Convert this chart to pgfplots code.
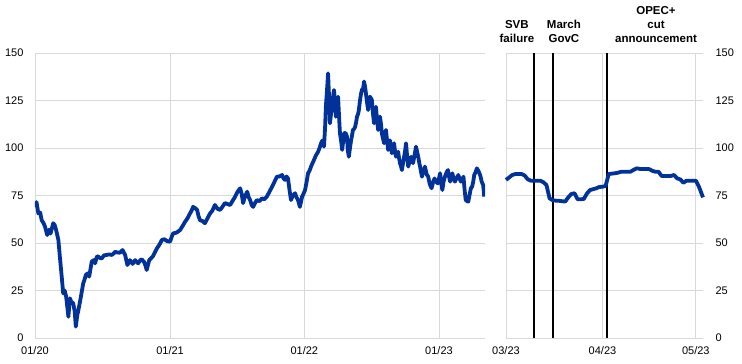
\documentclass[border=0pt]{standalone}
\usepackage{fontspec}
\setmainfont{Liberation Sans}
\usepackage{pgfplots}
\pgfplotsset{compat=1.18}
\definecolor{ecbblue}{RGB}{0,50,153}
\definecolor{gridgray}{RGB}{217,217,217}
\begin{document}
\begin{tikzpicture}
\useasboundingbox (-35pt,-26pt) rectangle (707pt,338pt);
\pgfplotsset{every axis/.append style={
  scale only axis, height=285pt, ymin=0, ymax=150, ytick={0,25,...,150},
  grid=major, major grid style={gridgray, line width=0.9pt},
  axis line style={draw=none}, major tick length=0pt,
  tick label style={font=\fontsize{11}{13}\selectfont},
  /pgf/number format/assume math mode=true,
  xticklabel style={yshift=-5pt},
}}
\begin{axis}[at={(0pt,0pt)}, width=450pt, xmin=0, xmax=1213,
  xtick={0,364,726,1089}, xticklabels={01/20,01/21,01/22,01/23},
  yticklabel style={xshift=-8pt}]
\addplot[ecbblue, line width=3.8pt, line join=round] table {
1 69
4 71.5
9 65.6
14 66
18 62
23 60.5
27 58.6
33 54.2
38 57
42 55
49 60.4
53 59.5
57 56.8
63 51.6
67 42.8
72 32.3
76 23.5
80 25
84 21.7
90 11.2
94 20.9
98 19
103 18.3
107 14
110 6
114 12
117 14.7
123 20.9
130 28.8
134 31
137 33.2
142 34
146 32.3
153 40.2
158 41
162 39.3
167 43
171 42.8
176 42
180 41.9
186 43.5
193 43.7
200 44
207 43.7
212 44.5
216 45.4
222 45
229 44.9
236 46.3
243 43.7
249 38.4
256 41
263 39
270 41
274 40
278 39.3
284 41
288 41.4
294 40
298 38
301 35.8
308 41
318 43
323 45
328 47
335 49
342 51.6
349 52
356 51
364 50.7
368 53
372 55
382 55.5
391 56.8
398 59
404 61
411 63
418 65.6
422 67
426 69
431 68.5
437 67.4
441 64
445 62
452 61.5
458 60.4
465 63
472 65.6
478 67
485 70
492 68
499 67.4
505 69
512 71
519 70.5
526 70
532 72
539 74.2
546 77
553 78.8
557 76
561 71
565 74
572 77
576 74
580 72.6
584 70
588 69
593 71
598 72.6
605 72
612 73.5
618 73
625 74.4
632 77
639 79.6
645 82
652 84.9
659 85
666 85.8
670 84
674 83.2
678 85
682 84
686 78
690 72.6
695 75
701 76.2
705 74
709 72.6
714 69
720 74.4
724 76
728 77.9
732 82
736 86.7
740 88
744 90.2
748 92
752 93.7
757 96
763 98
767 100
771 102.5
775 104
779 100.7
782 111
784 121.7
787 130
790 139.3
793 125
795 113
798 118
801 121.7
804 128
806 130.5
809 124
811 116.5
814 120
817 127
820 115
822 107.7
825 104
828 99
831 104
833 107.7
837 108
841 106
843 99
846 95.4
849 100
852 104
855 107
857 109.5
860 110
863 111.2
866 114
868 116.5
871 118
873 120
876 125
879 128.8
882 131
884 130.5
887 135
890 132
892 128.8
895 124
898 120
900 124
903 127
906 126
908 125.3
911 118
914 113
917 118
919 121.7
922 115
925 109.5
928 113
930 116.5
933 112
935 107.7
938 105
941 102.5
943 106
946 109.5
949 104
952 99
955 101
957 104
960 100
962 97.2
965 100
968 102.5
970 99
973 95.4
976 97
979 98
981 95
984 91.9
987 90
989 88.4
992 92
995 95.4
998 99
1000 102.5
1003 96
1006 90.2
1010 93
1014 95.4
1016 94
1019 92
1023 96
1027 100.7
1030 98
1033 95.4
1036 92
1038 90.2
1041 87
1043 84.9
1046 87
1049 89
1051 90.2
1056 86
1060 84.9
1064 81
1069 78.8
1073 82
1077 84
1082 82
1086 81.4
1089 84
1092 86.7
1095 82
1098 77.9
1101 82
1105 84.9
1109 87
1113 88.4
1116 85
1119 82.3
1122 85
1125 86.7
1128 84
1132 82.3
1136 84
1141 85.8
1144 84
1148 82.3
1151 83.5
1155 84.9
1158 78
1161 72.6
1165 72
1168 71.8
1172 76
1175 78.8
1178 79.5
1181 82
1184 85.8
1188 87.5
1191 89.3
1195 88
1198 86.7
1201 85
1204 82.3
1208 80.5
1211 74.4
};
\end{axis}
\begin{axis}[at={(471pt,0pt)}, width=197pt, xmin=0, xmax=63.3,
  xtick={0,31,61}, xticklabels={03/23,04/23,05/23},
  yticklabel pos=right, yticklabel style={xshift=9pt, anchor=west}, clip=false]
\addplot[black, line width=2pt] coordinates {(9,0) (9,150)};
\addplot[black, line width=2pt] coordinates {(15,0) (15,150)};
\addplot[black, line width=2pt] coordinates {(32.3,0) (32.3,150)};
\addplot[ecbblue, line width=3.8pt, line join=round] table {
0 83.2
1 84.5
2 85.8
3 86.3
4 86.3
5 86.3
6 85.5
7 83.5
8 82.8
9 82.8
10 82.8
11 82.8
12 82
13 80.5
14 73.5
15 72.5
16 72.3
17 72.2
18 72
19 71.8
20 74
21 75.8
22 76.2
23 73
24 73
25 73.2
26 76
27 77.9
28 78.3
29 78.8
30 79.5
31 79.6
32 80
33 86.3
34 86.5
35 86.7
36 87
37 87.5
38 87.5
39 87.5
40 87.5
41 88.5
42 89.3
43 89
44 88.9
45 88.9
46 88.9
47 88
48 87.5
49 87.5
50 85.3
51 85.3
52 85.3
53 85.3
54 85.8
55 84
56 83.5
57 81.7
58 82.8
59 82.8
60 82.8
61 82.8
62 79.6
63.3 74
};
\begin{scope}[every node/.style={align=center, inner sep=0pt, anchor=south, yshift=10pt, font=\bfseries\fontsize{11.5}{14}\selectfont}]
\node at (axis cs:3.5,150) {SVB\\failure};
\node at (axis cs:18.6,150) {March\\GovC};
\node at (axis cs:48.2,150) {OPEC+\\cut\\announcement};
\end{scope}
\end{axis}
\end{tikzpicture}
\end{document}
